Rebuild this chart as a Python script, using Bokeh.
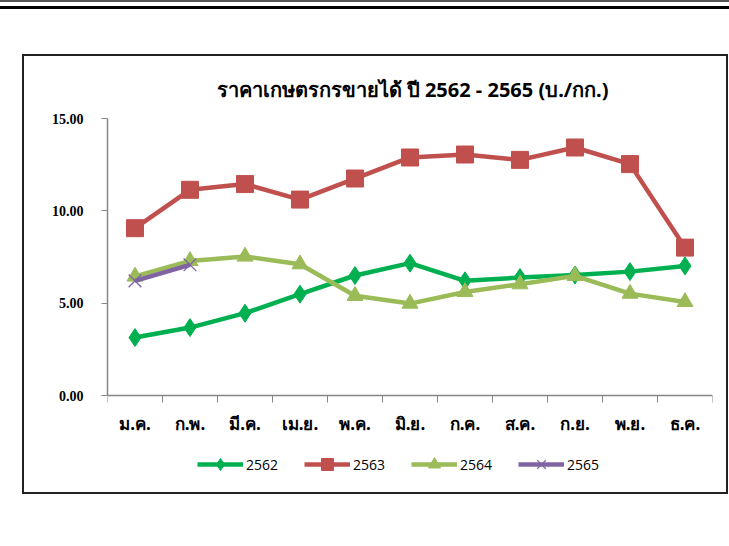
from bokeh.plotting import figure
from bokeh.models import (FixedTicker, Legend, LegendItem,
                          NumeralTickFormatter, Range1d, InlineStyleSheet)
from bokeh.embed import file_html
from bokeh.resources import INLINE

months = ["ม.ค.", "ก.พ.", "มี.ค.", "เม.ย.", "พ.ค.", "มิ.ย.", "ก.ค.", "ส.ค.", "ก.ย.", "พ.ย.", "ธ.ค."]
y2562 = [3.14, 3.68, 4.46, 5.49, 6.50, 7.17, 6.21, 6.39, 6.53, 6.71, 7.02]
y2563 = [9.06, 11.14, 11.45, 10.61, 11.75, 12.89, 13.05, 12.76, 13.43, 12.53, 8.01]
y2564 = [6.45, 7.29, 7.53, 7.11, 5.40, 4.98, 5.61, 6.03, 6.48, 5.52, 5.07]
y2565 = [6.21, 7.08]
y_ticks = [0, 5, 10, 15]
title_text = "ราคาเกษตรกรขายได้ ปี 2562 - 2565 (บ./กก.)"

n = len(months)
idx = list(range(n))
bounds = [i - 0.5 for i in range(n + 1)]
y_min, y_max = y_ticks[0], y_ticks[-1]

# frame extends below the value axis so the legend (drawn in the frame) is not clipped
p = figure(width=729, height=546, output_backend="svg", toolbar_location=None,
           x_range=Range1d(-0.5, n - 0.5), y_range=Range1d(-5.14, y_max),
           min_border_left=107, min_border_right=17, min_border_top=118,
           min_border_bottom=56, title=title_text)
p.outline_line_color = None
p.grid.visible = False
p.background_fill_color = "white"
p.border_fill_color = "white"

css = """
:host { position: relative; }
:host::before {
  content: ""; position: absolute; left: 0px; top: 0px; width: 729px; height: 9px;
  box-sizing: border-box; border-top: 2px solid #555555; border-bottom: 3px solid #000000;
  pointer-events: none; z-index: 10;
}
:host::after {
  content: ""; position: absolute; left: 22px; top: 54px; width: 706px; height: 440px;
  box-sizing: border-box; border: 2px solid #222222;
  pointer-events: none; z-index: 10;
}
"""
p.stylesheets = [InlineStyleSheet(css=css)]

p.title.align = "left"
p.title.offset = 109
p.title.text_font = "Noto Sans"
p.title.text_font_size = "20px"
p.title.text_font_style = "bold"
p.title.text_color = "#000000"
p.title.standoff = 32

ax = p.xaxis[0]
ax.fixed_location = y_min
ax.ticker = FixedTicker(ticks=idx, minor_ticks=bounds)
ax.major_label_overrides = {i: m for i, m in zip(idx, months)}
ax.major_tick_line_color = None
ax.major_tick_out = 0
ax.major_tick_in = 0
ax.minor_tick_out = 7
ax.minor_tick_in = 0
ax.minor_tick_line_color = "#868686"
ax.axis_line_color = "#868686"
ax.axis_line_width = 1.5
ax.major_label_standoff = 9
ax.major_label_text_font = "Noto Sans"
ax.major_label_text_font_size = "17px"
ax.major_label_text_font_style = "bold"
ax.major_label_text_color = "#000000"

ay = p.yaxis[0]
ay.bounds = (y_min, y_max)
ay.ticker = FixedTicker(ticks=y_ticks, minor_ticks=[])
ay.formatter = NumeralTickFormatter(format="0.00")
ay.major_tick_out = 6
ay.major_tick_in = 0
ay.major_tick_line_color = "#868686"
ay.axis_line_color = "#868686"
ay.axis_line_width = 1.5
ay.major_label_standoff = 18
ay.major_label_text_font = "Liberation Serif"
ay.major_label_text_font_size = "14px"
ay.major_label_text_font_style = "bold"
ay.major_label_text_color = "#000000"

series = [
    ("2562", y2562, "#00B050", "diamond", 18),
    ("2563", y2563, "#C0504D", "square", 17),
    ("2564", y2564, "#9BBB59", "triangle", 16),
    ("2565", y2565, "#8064A2", "x", 18),
]
items = []
for name, ys, col, mk, sz in series:
    xs = idx[:len(ys)]
    r1 = p.line(xs, ys, line_color=col, line_width=4.5)
    r2 = p.scatter(xs, ys, marker=mk, size=sz, fill_color=col, line_color=col,
                   line_width=1.3 if mk == "x" else 1)
    items.append(LegendItem(label=name, renderers=[r1, r2]))

leg = Legend(items=items, orientation="horizontal", location=(90, 11),
             padding=0, margin=0, spacing=26, glyph_width=46, glyph_height=30,
             label_standoff=3, label_text_font="Open Sans",
             label_text_font_size="14px", label_text_color="#000000",
             background_fill_alpha=0, border_line_color=None)
p.add_layout(leg, "center")

open("out.html", "w").write(file_html(p, INLINE))
